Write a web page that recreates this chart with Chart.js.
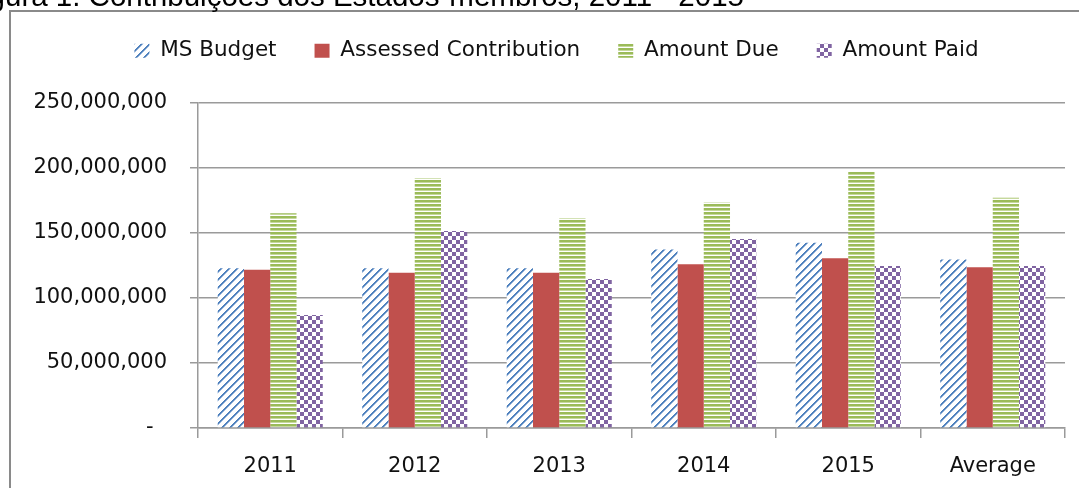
<!DOCTYPE html>
<html>
<head>
<meta charset="utf-8">
<script src="https://cdn.jsdelivr.net/npm/chart.js@4"></script>
<style>
  html, body { margin: 0; padding: 0; background: #fff; overflow: hidden; }
  #frame { position: absolute; left: 9px; top: 10px; width: 1070px; height: 478px; border-top: 2px solid #8a8a8a; border-left: 2px solid #8a8a8a; box-sizing: border-box; }
  #caption { position: absolute; left: -36px; top: -19px; font: 29.5px/30px 'Liberation Sans', Arial, sans-serif; color: #000; white-space: nowrap; z-index: 2; }
  #grafico { position: absolute; left: 0; top: 0; z-index: 1; }
</style>
</head>
<body>
<div id="frame"></div>
<div id="caption">Figura 1. Contribuições dos Estados-membros, 2011 - 2015</div>
<canvas id="grafico" width="1079" height="488"></canvas>
<script>
// dados
const categorias = ['2011', '2012', '2013', '2014', '2015', 'Average'];
const msBudget = [122800000, 122800000, 122800000, 137400000, 142500000, 129700000];
const assessedContribution = [121700000, 119400000, 119400000, 125900000, 130500000, 123600000];
const amountDue = [165200000, 192100000, 161300000, 173400000, 197200000, 177200000];
const amountPaid = [87000000, 151500000, 114600000, 145400000, 124600000, 124600000];
const yTicks = [0, 50000000, 100000000, 150000000, 200000000, 250000000];

// padrões de preenchimento estilo Excel
function criaPadrao(desenha) {
    const c = document.createElement('canvas');
    c.width = 8; c.height = 8;
    const g = c.getContext('2d');
    g.fillStyle = '#fff';
    g.fillRect(0, 0, 8, 8);
    desenha(g);
    return g.createPattern(c, 'repeat');
}

const padraoDiagonal = criaPadrao(g => {
    for (let x = 0; x < 8; x++)
        for (let y = 0; y < 8; y++) {
            const d = (x + y) % 8;
            if (d < 2) { g.fillStyle = '#4f81bd'; g.fillRect(x, y, 1, 1); }
            else if (d === 2) { g.fillStyle = '#a3bee0'; g.fillRect(x, y, 1, 1); }
        }
});
const padraoHorizontal = criaPadrao(g => {
    for (let y = 0; y < 8; y++) {
        if (y % 4 < 2) { g.fillStyle = '#9bbb59'; g.fillRect(0, y, 8, 1); }
        else if (y % 4 === 2) { g.fillStyle = '#c5d89c'; g.fillRect(0, y, 8, 1); }
    }
});
const padraoXadrez = criaPadrao(g => {
    g.fillStyle = '#8064a2';
    g.fillRect(0, 0, 4, 4);
    g.fillRect(4, 4, 4, 4);
});

// legenda mais alta (empurra a área do gráfico) e deslocada para a direita
const ajusteLegenda = {
    id: 'ajusteLegenda',
    beforeInit(chart) {
        const fitOriginal = chart.legend.fit;
        chart.legend.fit = function () {
            fitOriginal.bind(chart.legend)();
            this.height = 101;
        };
    },
    afterLayout(chart) {
        chart.legend.left = 48;
    }
};

Chart.defaults.font.family = "'DejaVu Sans', sans-serif";
Chart.defaults.color = '#111';

const corGrade = '#9a9a9a';

new Chart(document.getElementById('grafico').getContext('2d'), {
    type: 'bar',
    data: {
        labels: categorias,
        datasets: [
            { label: 'MS Budget', data: msBudget, backgroundColor: padraoDiagonal, borderWidth: 0 },
            { label: 'Assessed Contribution', data: assessedContribution, backgroundColor: '#c0504d', borderWidth: 0 },
            { label: 'Amount Due', data: amountDue, backgroundColor: padraoHorizontal, borderWidth: 0 },
            { label: 'Amount Paid', data: amountPaid, backgroundColor: padraoXadrez, borderWidth: 0 }
        ]
    },
    options: {
        responsive: false,
        animation: false,
        devicePixelRatio: 1,
        categoryPercentage: 0.727,
        barPercentage: 1.0,
        layout: { padding: { left: 0, right: 14, top: 2, bottom: 0 } },
        plugins: {
            tooltip: { enabled: false },
            legend: {
                position: 'top',
                labels: {
                    boxWidth: 15,
                    boxHeight: 14,
                    padding: 38,
                    font: { size: 21.5 },
                    color: '#111'
                }
            }
        },
        scales: {
            x: {
                grid: { drawOnChartArea: false, drawTicks: true, tickLength: 10, color: corGrade, lineWidth: 1.5, offset: true },
                border: { color: corGrade, width: 1.5 },
                ticks: { font: { size: 21 }, padding: 16, color: '#111' },
                afterFit(scale) { scale.height = 60; }
            },
            y: {
                min: 0,
                max: 250000000,
                afterBuildTicks(scale) { scale.ticks = yTicks.map(v => ({ value: v })); },
                grid: { color: corGrade, lineWidth: 1.5, tickLength: 8 },
                border: { color: corGrade, width: 1.5 },
                ticks: {
                    font: { size: 21 },
                    padding: 23,
                    color: '#111',
                    callback: v => v === 0 ? '-  ' : v.toLocaleString('en-US')
                },
                afterFit(scale) { scale.width = 198; }
            }
        }
    },
    plugins: [ajusteLegenda]
});
</script>
</body>
</html>
